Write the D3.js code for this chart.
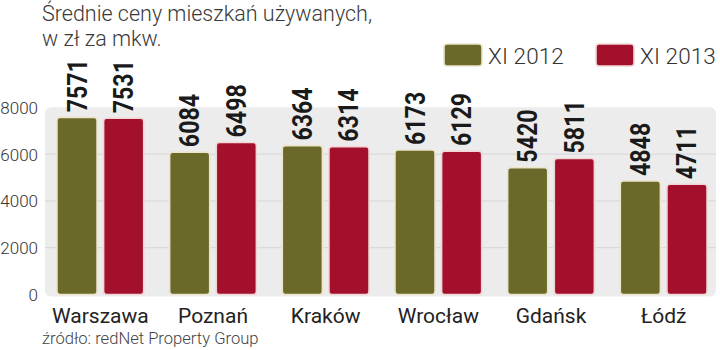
<!DOCTYPE html>
<html>
<head>
<meta charset="utf-8">
<script src="https://cdn.jsdelivr.net/npm/d3@7"></script>
<style>
  html, body { margin: 0; padding: 0; background: #fff; }
  svg { display: block; }
</style>
</head>
<body>
<svg id="chart" width="720" height="350"></svg>
<script>
// Average prices of second-hand flats, PLN per m²
const cities = ["Warszawa", "Poznań", "Kraków", "Wrocław", "Gdańsk", "Łódź"];
const seriesNames = ["XI 2012", "XI 2013"];
const values2012 = [7571, 6084, 6364, 6173, 5420, 4848];
const values2013 = [7531, 6498, 6314, 6129, 5811, 4711];
const yTicks = [0, 2000, 4000, 6000, 8000];

const colors = ["#6a692a", "#a3102c"];
const borders = ["#ece5cc", "#f1d6d6"];

const svg = d3.select("#chart");

const plot = { left: 45, right: 716, top: 107.3, bottom: 294.5 };

const x0 = d3.scaleBand()
  .domain(cities)
  .range([44, 720])
  .paddingInner(0.23)
  .paddingOuter(0.115);

const x1 = d3.scaleBand()
  .domain(seriesNames)
  .range([0, x0.bandwidth()])
  .paddingInner(0.14);

const y = d3.scaleLinear()
  .domain([0, 8000])
  .range([plot.bottom, plot.top]);

// Title
const title = svg.append("g")
  .attr("font-family", "Roboto, 'Open Sans', sans-serif")
  .attr("font-weight", 300)
  .attr("font-size", 21.5)
  .attr("fill", "#3a3a3a");
title.append("text").attr("x", 42).attr("y", 21).text("Średnie ceny mieszkań używanych,");
title.append("text").attr("x", 42).attr("y", 46).text("w zł za mkw.");

// Plot background panel
svg.append("rect")
  .attr("x", plot.left)
  .attr("y", plot.top)
  .attr("width", plot.right - plot.left)
  .attr("height", plot.bottom - plot.top + 2)
  .attr("rx", 6)
  .attr("fill", "#ececec");

// Gridlines
svg.append("g")
  .selectAll("line")
  .data(yTicks.filter(d => d > 0 && d < 8000))
  .join("line")
  .attr("x1", plot.left)
  .attr("x2", plot.right)
  .attr("y1", d => y(d))
  .attr("y2", d => y(d))
  .attr("stroke", "#d6d6d6")
  .attr("stroke-width", 1);

// Y axis labels
const yAxis = d3.axisLeft(y).tickValues(yTicks).tickSize(0).tickPadding(0).tickFormat(d3.format("d"));
const yg = svg.append("g")
  .attr("transform", "translate(38,0)")
  .call(yAxis);
yg.select(".domain").remove();
yg.selectAll("text")
  .attr("font-family", "Roboto, 'Open Sans', sans-serif")
  .attr("font-weight", 300)
  .attr("font-size", 17)
  .attr("fill", "#333")
  .attr("dy", "0.35em");

// Bars
const rows = cities.map((c, i) => ({ city: c, vals: [values2012[i], values2013[i]] }));

const groups = svg.append("g")
  .selectAll("g")
  .data(rows)
  .join("g")
  .attr("transform", d => `translate(${x0(d.city)},0)`);

groups.selectAll("rect")
  .data(d => d.vals.map((v, k) => ({ key: seriesNames[k], k, v })))
  .join("rect")
  .attr("x", d => x1(d.key))
  .attr("y", d => y(d.v))
  .attr("width", x1.bandwidth())
  .attr("height", d => y(0) - y(d.v))
  .attr("rx", 3)
  .attr("fill", d => colors[d.k])
  .attr("stroke", d => borders[d.k])
  .attr("stroke-width", 1.6);

// Value labels, rotated and set in a compressed bold face
groups.selectAll("text.val")
  .data(d => d.vals.map((v, k) => ({ key: seriesNames[k], k, v })))
  .join("text")
  .attr("class", "val")
  .attr("transform", d => `translate(${x1(d.key) + x1.bandwidth() / 2 + 9.5},${y(d.v) - 5}) rotate(-90) scale(0.86,1)`)
  .attr("font-family", "Roboto, sans-serif")
  .attr("font-weight", 700)
  .attr("font-size", 27)
  .attr("fill", "#1a1a1a")
  .text(d => d.v);

// Category labels
svg.append("g")
  .selectAll("text")
  .data(cities)
  .join("text")
  .attr("x", d => x0(d) + x0.bandwidth() / 2)
  .attr("y", 323)
  .attr("text-anchor", "middle")
  .attr("font-family", "Roboto, 'Open Sans', sans-serif")
  .attr("font-size", 21)
  .attr("fill", "#222")
  .text(d => d);

// Source
svg.append("text")
  .attr("x", 42)
  .attr("y", 344)
  .attr("font-family", "Roboto, 'Open Sans', sans-serif")
  .attr("font-weight", 300)
  .attr("font-size", 16.6)
  .attr("fill", "#444")
  .text("źródło: redNet Property Group");

// Legend
const legendX = [444, 596];
const legend = svg.append("g");
seriesNames.forEach((name, k) => {
  legend.append("rect")
    .attr("x", legendX[k])
    .attr("y", 44)
    .attr("width", 38)
    .attr("height", 22)
    .attr("rx", 3)
    .attr("fill", colors[k])
    .attr("stroke", borders[k])
    .attr("stroke-width", 1.6);
  legend.append("text")
    .attr("x", legendX[k] + 44)
    .attr("y", 63.5)
    .attr("font-family", "Roboto, 'Open Sans', sans-serif")
    .attr("font-weight", 300)
    .attr("font-size", 22.5)
    .attr("letter-spacing", 0.1)
    .attr("fill", "#333")
    .text(name);
});
</script>
</body>
</html>
